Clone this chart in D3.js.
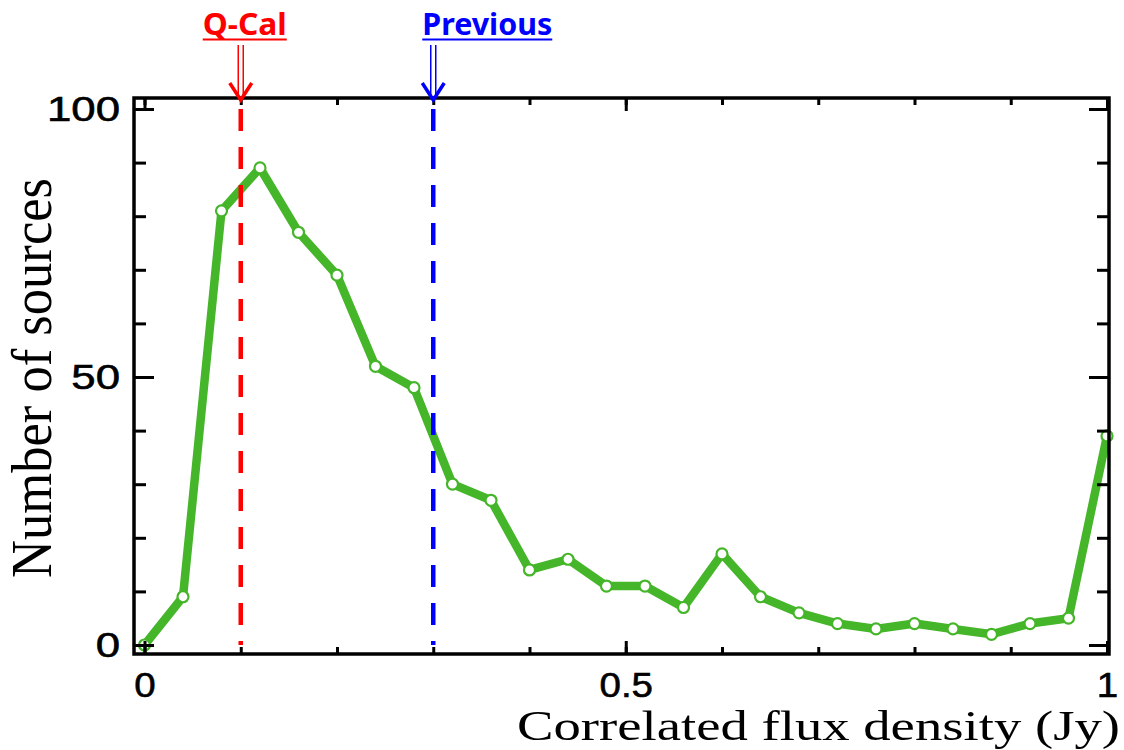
<!DOCTYPE html>
<html>
<head>
<meta charset="utf-8">
<script src="https://cdn.jsdelivr.net/npm/d3@7"></script>
<style>
  body { margin: 0; background: #fff; }
</style>
</head>
<body>
<svg class="chart"></svg>
<script>
// flux bins (Jy) and number of sources per bin
var flux = [0, 0.04, 0.08, 0.12, 0.16, 0.20, 0.24, 0.28, 0.32, 0.36, 0.40, 0.44, 0.48,
            0.52, 0.56, 0.60, 0.64, 0.68, 0.72, 0.76, 0.80, 0.84, 0.88, 0.92, 0.96, 1.00];
var counts = [0, 9, 81, 89, 77, 69, 52, 48, 30, 27, 14, 16, 11,
              11, 7, 17, 9, 6, 4, 3, 4, 3, 2, 4, 5, 39];

var xMinor = [0, 0.1, 0.2, 0.3, 0.4, 0.5, 0.6, 0.7, 0.8, 0.9, 1];
var xMajor = [0, 0.5, 1];
var yMinor = [0, 10, 20, 30, 40, 50, 60, 70, 80, 90, 100];
var yMajor = [0, 50, 100];

// marker lines at the top
var markerNames = ["Q-Cal", "Previous"];
var markerFlux = [0.1, 0.3];
var markerColors = ["#ff0000", "#0000ff"];

var width = 1124, height = 750;
var frame = {left: 134, right: 1109, top: 98, bottom: 654};

var x = d3.scaleLinear().domain([0, 1]).range([144.5, 1107]);
var y = d3.scaleLinear().domain([0, 100]).range([645, 109]);

var svg = d3.select(".chart")
    .attr("width", width)
    .attr("height", height)
    .style("display", "block");

svg.append("rect").attr("width", width).attr("height", height).attr("fill", "#fff");

var green = "#45b529";

// data line
var line = d3.line()
    .x(function(d, i) { return x(flux[i]); })
    .y(function(d) { return y(d); });

svg.append("path")
    .datum(counts)
    .attr("d", line)
    .attr("fill", "none")
    .attr("stroke", green)
    .attr("stroke-width", 8.5)
    .attr("stroke-linejoin", "round");

svg.selectAll("circle.pt")
    .data(counts)
  .enter().append("circle")
    .attr("class", "pt")
    .attr("cx", function(d, i) { return x(flux[i]); })
    .attr("cy", function(d) { return y(d); })
    .attr("r", 5.5)
    .attr("fill", "#fff")
    .attr("stroke", green)
    .attr("stroke-width", 2.2);

// dashed marker lines
svg.selectAll("line.mark")
    .data(markerFlux)
  .enter().append("line")
    .attr("class", "mark")
    .attr("x1", function(d) { return x(d); })
    .attr("x2", function(d) { return x(d); })
    .attr("y1", y(100))
    .attr("y2", y(0))
    .attr("stroke", function(d, i) { return markerColors[i]; })
    .attr("stroke-width", 4.5)
    .attr("stroke-dasharray", "22,16");

// frame
svg.append("rect")
    .attr("x", frame.left)
    .attr("y", frame.top)
    .attr("width", frame.right - frame.left)
    .attr("height", frame.bottom - frame.top)
    .attr("fill", "none")
    .attr("stroke", "#000")
    .attr("stroke-width", 3.5);

function tickStyle(g) {
  g.select(".domain").remove();
  g.selectAll(".tick line").attr("stroke", "#000").attr("stroke-width", 3);
}

function stretch(sel, k) {
  sel.attr("font-family", "Liberation Sans, Arial, sans-serif").attr("font-size", 35);
  sel.selectAll(".tick text")
      .attr("fill", "#000")
      .attr("stroke", "#000")
      .attr("stroke-width", 0.6)
      .each(function() {
        this.setAttribute("textLength", this.getComputedTextLength() * k);
        this.setAttribute("lengthAdjust", "spacingAndGlyphs");
      });
}

// x ticks (bottom and top, inward)
svg.append("g").attr("transform", "translate(0," + frame.bottom + ")")
    .call(d3.axisBottom(x).tickValues(xMinor).tickSize(-7).tickFormat(""))
    .call(tickStyle);
var xb = svg.append("g").attr("transform", "translate(0," + frame.bottom + ")")
    .call(d3.axisBottom(x).tickValues(xMajor).tickSize(-13).tickPadding(18).tickFormat(d3.format("")))
    .call(tickStyle);
stretch(xb, 1.1);

svg.append("g").attr("transform", "translate(0," + frame.top + ")")
    .call(d3.axisTop(x).tickValues(xMinor).tickSize(-7).tickFormat(""))
    .call(tickStyle);
svg.append("g").attr("transform", "translate(0," + frame.top + ")")
    .call(d3.axisTop(x).tickValues(xMajor).tickSize(-13).tickFormat(""))
    .call(tickStyle);

// y ticks (left and right, inward)
svg.append("g").attr("transform", "translate(" + frame.left + ",0)")
    .call(d3.axisLeft(y).tickValues(yMinor).tickSize(-12).tickFormat(""))
    .call(tickStyle);
var yl = svg.append("g").attr("transform", "translate(" + frame.left + ",0)")
    .call(d3.axisLeft(y).tickValues(yMajor).tickSize(-20).tickPadding(14))
    .call(tickStyle);
stretch(yl, 1.25);

svg.append("g").attr("transform", "translate(" + frame.right + ",0)")
    .call(d3.axisRight(y).tickValues(yMinor).tickSize(-12).tickFormat(""))
    .call(tickStyle);
svg.append("g").attr("transform", "translate(" + frame.right + ",0)")
    .call(d3.axisRight(y).tickValues(yMajor).tickSize(-20).tickFormat(""))
    .call(tickStyle);

// axis titles
svg.append("text")
    .attr("x", 517)
    .attr("y", 740)
    .attr("font-family", "Liberation Serif, serif")
    .attr("font-size", 43)
    .attr("textLength", 603)
    .attr("lengthAdjust", "spacingAndGlyphs")
    .text("Correlated flux density (Jy)");

svg.append("text")
    .attr("transform", "translate(51,378) scale(1.25,1) rotate(-90)")
    .attr("text-anchor", "middle")
    .attr("font-family", "Liberation Serif, serif")
    .attr("font-size", 45)
    .attr("textLength", 400)
    .attr("lengthAdjust", "spacingAndGlyphs")
    .text("Number of sources");

// annotations with double-shaft arrows
var textOffset = [-38, -11];
var textWidth = [84, 130];
markerFlux.forEach(function(f, i) {
  var cx = x(f), c = markerColors[i];
  var g = svg.append("g");
  g.append("text")
      .attr("x", cx + textOffset[i])
      .attr("y", 35)
      .attr("font-family", "Noto Sans, sans-serif")
      .attr("font-weight", "bold")
      .attr("font-size", 31)
      .attr("fill", c)
      .attr("textLength", textWidth[i])
      .attr("lengthAdjust", "spacingAndGlyphs")
      .text(markerNames[i]);
  g.append("line")
      .attr("x1", cx + textOffset[i]).attr("x2", cx + textOffset[i] + textWidth[i])
      .attr("y1", 39.5).attr("y2", 39.5)
      .attr("stroke", c).attr("stroke-width", 2);
  [-2.5, 2.5].forEach(function(dx) {
    g.append("line")
        .attr("x1", cx + dx).attr("x2", cx + dx)
        .attr("y1", 45).attr("y2", 96)
        .attr("stroke", c).attr("stroke-width", 1.5);
  });
  g.append("path")
      .attr("d", "M" + (cx - 11) + ",83L" + cx + ",100L" + (cx + 11) + ",83")
      .attr("fill", "none")
      .attr("stroke", c)
      .attr("stroke-width", 3.5);
});
</script>
</body>
</html>
